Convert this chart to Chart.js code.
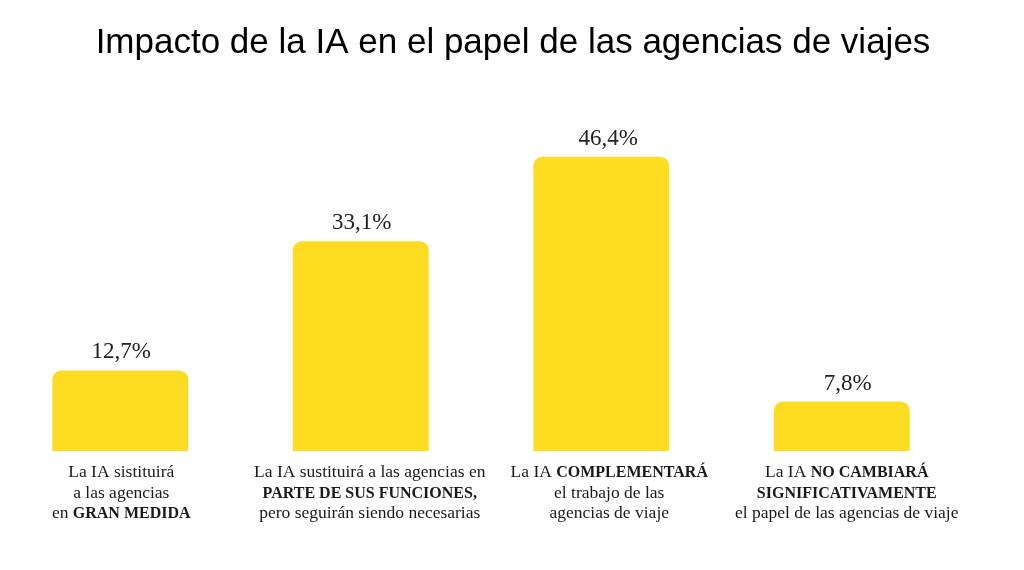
<!DOCTYPE html>
<html>
<head>
<meta charset="utf-8">
<script src="https://cdn.jsdelivr.net/npm/chart.js@4.4.1/dist/chart.umd.min.js"></script>
<style>
  html, body { margin: 0; padding: 0; background: #fff; }
  #wrap { position: relative; width: 1024px; height: 570px; }
</style>
</head>
<body>
<div id="wrap"><canvas id="chart" width="1024" height="570"></canvas></div>
<script>
// datos del gráfico
const TITLE = 'Impacto de la IA en el papel de las agencias de viajes';
const CATEGORIES = ['GRAN MEDIDA', 'PARTE DE SUS FUNCIONES', 'COMPLEMENTARÁ', 'NO CAMBIARÁ'];
const VALUES = [12.7, 33.1, 46.4, 7.8];
// etiquetas del eje x: cada línea es una lista de [texto, negrita]
const LABEL_LINES = [
  [ [['La IA sistituirá', false]], [['a las agencias', false]], [['en ', false], ['GRAN MEDIDA', true]] ],
  [ [['La IA sustituirá a las agencias en', false]], [['PARTE DE SUS FUNCIONES,', true]], [['pero seguirán siendo necesarias', false]] ],
  [ [['La IA ', false], ['COMPLEMENTARÁ', true]], [['el trabajo de las', false]], [['agencias de viaje', false]] ],
  [ [['La IA ', false], ['NO CAMBIARÁ', true]], [['SIGNIFICATIVAMENTE', true]], [['el papel de las agencias de viaje', false]] ]
];

const BAR_COLOR = '#FDDC22';
const SERIF = '"Liberation Serif", "DejaVu Serif", serif';
// pequeños desplazamientos de los textos respecto al centro de la barra (px)
const VALUE_SHIFT = [1, 1, 7, 6];
const LABEL_SHIFT = [1, 9, 8, 5];

// título centrado en el lienzo
const titlePlugin = {
  id: 'titleText',
  afterDraw(chart){
    const ctx = chart.ctx;
    ctx.save();
    ctx.fillStyle = '#000';
    ctx.font = '35px "Liberation Sans", Arial, sans-serif';
    ctx.textAlign = 'center';
    ctx.textBaseline = 'alphabetic';
    ctx.fillText(TITLE, chart.width / 2 + 1, 53);
    ctx.restore();
  }
};

// valores encima de las barras
const valuePlugin = {
  id: 'valueLabels',
  afterDatasetsDraw(chart){
    const ctx = chart.ctx;
    const meta = chart.getDatasetMeta(0);
    ctx.save();
    ctx.fillStyle = '#222';
    ctx.font = '23px ' + SERIF;
    ctx.textAlign = 'center';
    ctx.textBaseline = 'alphabetic';
    meta.data.forEach((bar, i) => {
      const txt = VALUES[i].toFixed(1).replace('.', ',') + '%';
      ctx.fillText(txt, bar.x + VALUE_SHIFT[i], bar.y - 12);
    });
    ctx.restore();
  }
};

// etiquetas de categoría con partes en negrita
function segFont(bold){
  return bold ? 'bold 16px ' + SERIF : '17.5px ' + SERIF;
}
const xLabelPlugin = {
  id: 'xLabels',
  afterDraw(chart){
    const ctx = chart.ctx;
    const xs = chart.scales.x;
    const base = chart.chartArea.bottom;
    ctx.save();
    ctx.fillStyle = '#1a1a1a';
    ctx.textBaseline = 'alphabetic';
    ctx.textAlign = 'left';
    LABEL_LINES.forEach((lines, i) => {
      const cx = xs.getPixelForValue(i) + LABEL_SHIFT[i];
      lines.forEach((segs, j) => {
        const y = base + 26 + j * 20.5;
        let total = 0;
        segs.forEach(s => {
          ctx.font = segFont(s[1]);
          total += ctx.measureText(s[0]).width;
        });
        let x = cx - total / 2;
        segs.forEach(s => {
          ctx.font = segFont(s[1]);
          ctx.fillText(s[0], x, y);
          x += ctx.measureText(s[0]).width;
        });
      });
    });
    ctx.restore();
  }
};

new Chart(document.getElementById('chart'), {
  type: 'bar',
  data: {
    labels: CATEGORIES,
    datasets: [{
      data: VALUES,
      backgroundColor: BAR_COLOR,
      borderWidth: 0,
      borderRadius: { topLeft: 9, topRight: 9, bottomLeft: 0, bottomRight: 0 },
      borderSkipped: false,
      categoryPercentage: 1,
      barPercentage: 0.565
    }]
  },
  options: {
    responsive: false,
    animation: false,
    layout: { padding: { top: 134, bottom: 119, left: 0, right: 62 } },
    plugins: { legend: { display: false }, title: { display: false }, tooltip: { enabled: false } },
    scales: {
      x: { display: false },
      y: { display: false, min: 0, max: 50 }
    }
  },
  plugins: [titlePlugin, valuePlugin, xLabelPlugin]
});
</script>
</body>
</html>
